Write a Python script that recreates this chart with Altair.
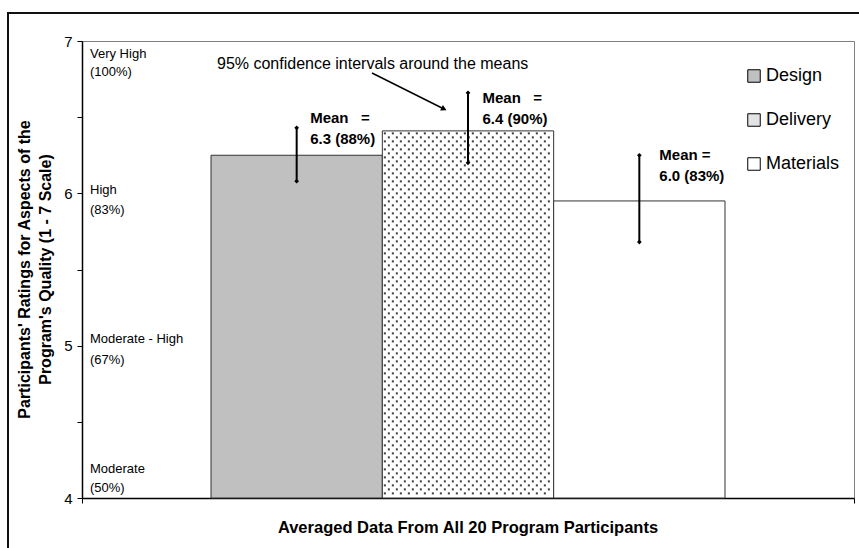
import altair as alt
import pandas as pd

# ---------------- data ----------------
categories = ["Design", "Delivery", "Materials"]
means = [6.25, 6.41, 5.95]
ci_low = [6.08, 6.20, 5.68]
ci_high = [6.43, 6.66, 6.25]
mean_line1 = ["Mean\u00a0\u00a0\u00a0=", "Mean\u00a0\u00a0\u00a0=", "Mean ="]
mean_line2 = ["6.3 (88%)", "6.4 (90%)", "6.0 (83%)"]
level_values = [7, 6, 5, 4]
level_names = ["Very High", "High", "Moderate - High", "Moderate"]
level_pcts = ["(100%)", "(83%)", "(67%)", "(50%)"]
y_ticks = [4, 4.5, 5, 5.5, 6, 6.5, 7]
y_title = ["Participants' Ratings for Aspects of the", "Program's Quality (1 - 7 Scale)"]
x_title = "Averaged Data From All 20 Program Participants"
annotation_text = "95% confidence intervals around the means"
bar_fills = ["#c0c0c0", "#ffffff", "#ffffff"]
legend_fills = ["#c0c0c0", "#e4e4e4", "#ffffff"]

# ---------------- layout ----------------
W, H = 772, 457
PAD = {"left": 82, "top": 41, "right": 5, "bottom": 50}
X_DOMAIN = [-0.753, 3.753]
Y_DOMAIN = [4, 7]
FONT = "Liberation Sans"

df = pd.DataFrame({
    "cat": categories,
    "x0": [i for i in range(len(categories))],
    "x1": [i + 1 for i in range(len(categories))],
    "xc": [i + 0.5 for i in range(len(categories))],
    "mean": means,
    "lo": ci_low,
    "hi": ci_high,
    "fill": bar_fills,
    "l1": mean_line1,
    "l2": mean_line2,
    "base": [Y_DOMAIN[0]] * len(categories),
})

xs = alt.Scale(domain=X_DOMAIN, nice=False, zero=False)
ys = alt.Scale(domain=Y_DOMAIN, nice=False, zero=False)
xaxis = alt.Axis(values=X_DOMAIN, labels=False, tickSize=5, grid=False, title=None,
                 domainColor="#000000", tickColor="#000000", domainWidth=1.5)
yaxis = alt.Axis(values=y_ticks,
                 labelExpr="datum.value % 1 === 0 ? format(datum.value, 'd') : ''",
                 tickSize=5, grid=False, title=None, labelFont=FONT, labelFontSize=15,
                 labelColor="#000000", labelPadding=5, domainColor="#000000",
                 tickColor="#000000", domainWidth=1.5)


def X(f):
    return alt.X(f, scale=xs, axis=xaxis)


def Y(f):
    return alt.Y(f, scale=ys, axis=yaxis)


one = pd.DataFrame({"k": [0]})

# outer chart border
outer = alt.Chart(one).mark_rect(fillOpacity=0, stroke="#111111", strokeWidth=2, clip=False).encode(
    x=alt.value(8 - PAD["left"]), x2=alt.value(W + 40),
    y=alt.value(13 - PAD["top"]), y2=alt.value(H + PAD["bottom"] + 40),
)

bars = alt.Chart(df).mark_rect(stroke="#333333", strokeWidth=1).encode(
    x=X("x0:Q"), x2="x1:Q", y=Y("mean:Q"), y2="base:Q",
    fill=alt.Fill("fill:N", scale=None, legend=None),
)

# dotted pattern for the Delivery bar
ppx = W / (X_DOMAIN[1] - X_DOMAIN[0])
ppy = H / (Y_DOMAIN[1] - Y_DOMAIN[0])
di = categories.index("Delivery")
rows = []
ny = int((means[di] - Y_DOMAIN[0]) * ppy // 4)
for j in range(ny):
    yv = means[di] - (j * 4 + 2.5) / ppy
    off = 2.5 if j % 2 == 0 else 6.5
    k = 0
    while off + k * 8 < ppx - 1.5:
        rows.append({"px": di + (off + k * 8) / ppx, "py": yv})
        k += 1
pat = pd.DataFrame(rows)
pattern = alt.Chart(pat).mark_square(size=4, color="#3a3a3a", opacity=1).encode(
    x=X("px:Q"), y=Y("py:Q"))

err = alt.Chart(df).mark_rule(color="#000000", strokeWidth=2).encode(
    x=X("xc:Q"), y=Y("lo:Q"), y2="hi:Q")
ends = alt.Chart(df).transform_fold(["lo", "hi"], as_=["end", "v"]).mark_point(
    shape="diamond", filled=True, size=22, color="#000000", opacity=1).encode(
    x=X("xc:Q"), y=Y("v:Q"))

# mean labels
label_dx = [13.5, 14.5, 20]
label_dy = [-10, 5, 0]
labels = []
for i in range(len(categories)):
    sub = df.iloc[[i]]
    for line, extra in (("l1", 0), ("l2", 21)):
        labels.append(alt.Chart(sub).mark_text(
            align="left", baseline="middle", dx=label_dx[i], dy=label_dy[i] + extra,
            font=FONT, fontSize=15, fontWeight="bold", color="#000000").encode(
            x=X("xc:Q"), y=Y("hi:Q"), text=f"{line}:N"))

# level descriptions inside the plot
lev = pd.DataFrame({"v": level_values, "name": level_names, "pct": level_pcts})
lev_dy1 = [12.5, -3, -7, -29]
lev_dy2 = [31, 17, 14, -10]
levels = []
for i in range(len(level_values)):
    sub = lev.iloc[[i]]
    for col, d in (("name", lev_dy1[i]), ("pct", lev_dy2[i])):
        levels.append(alt.Chart(sub).mark_text(
            align="left", baseline="middle", dy=d, font=FONT, fontSize=13,
            color="#000000").encode(x=alt.value(8), y=Y("v:Q"), text=f"{col}:N"))

# legend
legend_layer = alt.Chart(df).mark_square(opacity=0).encode(
    x=X("xc:Q"), y=Y("mean:Q"),
    color=alt.Color("cat:N", scale=alt.Scale(domain=categories, range=legend_fills),
                    legend=alt.Legend(orient="none", legendX=663, legendY=26, title=None,
                                      padding=0, rowPadding=26, labelOffset=3,
                                      symbolType="square", symbolSize=156,
                                      symbolStrokeColor="#000000", symbolStrokeWidth=1,
                                      symbolOpacity=1, labelFont=FONT, labelFontSize=18,
                                      labelColor="#000000")),
)

# annotation and arrow
annot = alt.Chart(one).mark_text(align="left", baseline="middle", font=FONT, fontSize=16,
                                 color="#000000").encode(
    x=alt.value(135), y=alt.value(23), text=alt.value(annotation_text))
arrow_line = alt.Chart(one).mark_rule(color="#000000", strokeWidth=1.5).encode(
    x=alt.value(290), y=alt.value(32), x2=alt.value(362), y2=alt.value(68))
arrow_head = alt.Chart(one).mark_point(shape="triangle-right", filled=True, size=40,
                                       angle=26.6, color="#000000", opacity=1).encode(
    x=alt.value(362), y=alt.value(68))

# axis titles
ytitle1 = alt.Chart(one).mark_text(angle=270, align="center", baseline="alphabetic",
                                   font=FONT, fontSize=16, fontWeight="bold",
                                   color="#000000").encode(
    x=alt.value(30 - PAD["left"]), y=alt.value(H / 2), text=alt.value(y_title[0]))
ytitle2 = alt.Chart(one).mark_text(angle=270, align="center", baseline="alphabetic",
                                   font=FONT, fontSize=16, fontWeight="bold",
                                   color="#000000").encode(
    x=alt.value(50.5 - PAD["left"]), y=alt.value(H / 2), text=alt.value(y_title[1]))
xtitle = alt.Chart(one).mark_text(align="center", baseline="middle", font=FONT,
                                  fontSize=16.5, fontWeight="bold", color="#000000").encode(
    x=alt.value(W / 2), y=alt.value(528 - PAD["top"]), text=alt.value(x_title))

chart = alt.layer(
    outer, bars, pattern, err, ends, *labels, *levels, legend_layer,
    annot, arrow_line, arrow_head, ytitle1, ytitle2, xtitle,
).properties(
    width=W, height=H, padding=PAD, autosize="none", background="#ffffff",
).configure_view(stroke="#808080", strokeWidth=1)

chart.save("out.html", embed_options={"renderer": "svg", "actions": False})
